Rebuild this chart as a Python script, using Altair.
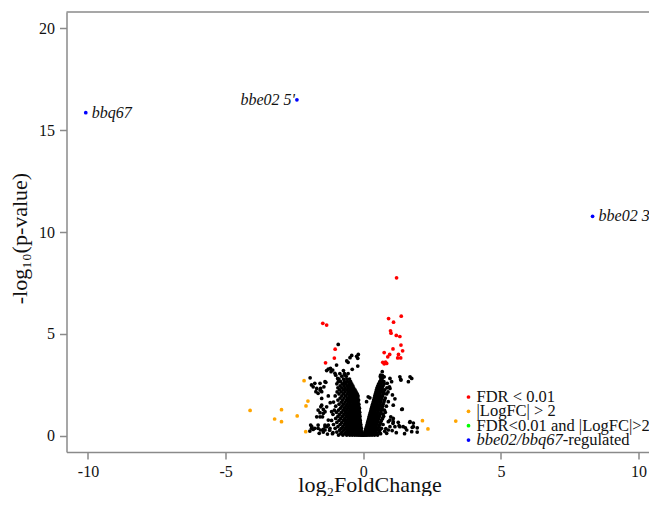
import altair as alt
import pandas as pd

# ---------------- data ----------------
left_arm_rows = [
    (0.03, [-0.9, -0.74, -0.6, -0.49, -0.4, -0.31, -0.23, -0.16, -0.1, -0.05, -0.02]),
    (0.10, [-1.12, -0.82, -0.67, -0.55, -0.45, -0.36, -0.28, -0.2, -0.13, -0.07, -0.03]),
    (0.18, [-0.96, -0.77, -0.62, -0.51, -0.42, -0.33, -0.25, -0.18, -0.11, -0.05]),
    (0.27, [-1.22, -0.86, -0.71, -0.58, -0.47, -0.38, -0.3, -0.22, -0.15, -0.08]),
    (0.36, [-1.02, -0.8, -0.66, -0.54, -0.44, -0.35, -0.27, -0.19, -0.12, -0.07]),
    (0.45, [-0.92, -0.74, -0.61, -0.5, -0.41, -0.32, -0.24, -0.17, -0.09]),
    (0.55, [-1.08, -0.84, -0.69, -0.57, -0.46, -0.37, -0.29, -0.21, -0.14, -0.09]),
    (0.65, [-0.96, -0.78, -0.64, -0.53, -0.43, -0.34, -0.26, -0.18, -0.11]),
    (0.75, [-1.15, -0.88, -0.72, -0.6, -0.49, -0.4, -0.31, -0.23, -0.16, -0.11]),
    (0.85, [-1.0, -0.82, -0.67, -0.55, -0.45, -0.36, -0.28, -0.2, -0.13]),
    (0.95, [-0.92, -0.76, -0.62, -0.51, -0.41, -0.33, -0.25, -0.18, -0.12]),
    (1.05, [-1.1, -0.86, -0.7, -0.58, -0.47, -0.38, -0.3, -0.22, -0.14]),
    (1.15, [-0.97, -0.79, -0.65, -0.53, -0.43, -0.34, -0.26, -0.19, -0.13]),
    (1.25, [-1.05, -0.9, -0.73, -0.6, -0.49, -0.4, -0.31, -0.23, -0.15]),
    (1.35, [-0.83, -0.68, -0.56, -0.45, -0.36, -0.28, -0.21, -0.14]),
    (1.45, [-1.0, -0.77, -0.63, -0.52, -0.42, -0.33, -0.25, -0.17]),
    (1.55, [-0.88, -0.72, -0.59, -0.48, -0.38, -0.3, -0.22, -0.16]),
    (1.65, [-1.08, -0.8, -0.66, -0.54, -0.44, -0.35, -0.27, -0.19]),
    (1.75, [-0.92, -0.75, -0.61, -0.5, -0.4, -0.31, -0.23, -0.17]),
    (1.85, [-0.84, -0.7, -0.57, -0.46, -0.36, -0.28, -0.2]),
    (1.95, [-1.02, -0.78, -0.64, -0.52, -0.42, -0.33, -0.25, -0.19]),
    (2.05, [-0.88, -0.72, -0.58, -0.47, -0.38, -0.3, -0.22]),
    (2.15, [-0.95, -0.8, -0.66, -0.54, -0.43, -0.34, -0.26]),
    (2.25, [-0.86, -0.72, -0.6, -0.49, -0.39, -0.3]),
    (2.35, [-0.92, -0.78, -0.66, -0.55, -0.45, -0.35]),
    (2.45, [-0.84, -0.7, -0.58, -0.48, -0.38]),
    (2.55, [-0.96, -0.76, -0.64, -0.52, -0.42]),
    (2.65, [-0.82, -0.68, -0.57, -0.46]),
    (2.78, [-0.88, -0.72, -0.6, -0.5]),
    (2.92, [-0.78, -0.62]),
    (3.05, [-0.85, -0.68, -0.55]),
    (3.20, [-0.72]),
]

right_arm_rows = [
    (0.03, [0.02, 0.06, 0.11, 0.17, 0.24, 0.32, 0.41, 0.52]),
    (0.10, [0.04, 0.09, 0.15, 0.22, 0.3, 0.39, 0.5, 0.63]),
    (0.18, [0.06, 0.12, 0.19, 0.27, 0.36, 0.46, 0.58]),
    (0.27, [0.08, 0.14, 0.21, 0.29, 0.38, 0.48, 0.6]),
    (0.36, [0.1, 0.17, 0.25, 0.33, 0.42, 0.53, 0.66]),
    (0.45, [0.12, 0.19, 0.27, 0.36, 0.46, 0.57]),
    (0.55, [0.14, 0.21, 0.29, 0.38, 0.48, 0.6, 0.72]),
    (0.65, [0.16, 0.24, 0.32, 0.41, 0.51, 0.63]),
    (0.75, [0.18, 0.26, 0.34, 0.43, 0.53, 0.66]),
    (0.85, [0.2, 0.28, 0.37, 0.46, 0.56, 0.7]),
    (0.95, [0.22, 0.3, 0.39, 0.48, 0.59, 0.74]),
    (1.05, [0.24, 0.32, 0.41, 0.5, 0.61, 0.72]),
    (1.15, [0.26, 0.34, 0.43, 0.53, 0.64, 0.8]),
    (1.25, [0.28, 0.36, 0.45, 0.55, 0.66, 0.77]),
    (1.35, [0.3, 0.38, 0.47, 0.57, 0.68]),
    (1.45, [0.32, 0.4, 0.49, 0.59, 0.7, 0.84]),
    (1.55, [0.34, 0.42, 0.51, 0.61, 0.72]),
    (1.65, [0.36, 0.44, 0.53, 0.63, 0.75]),
    (1.75, [0.38, 0.46, 0.55, 0.65, 0.77]),
    (1.85, [0.4, 0.48, 0.57, 0.67, 0.8]),
    (1.95, [0.42, 0.5, 0.59, 0.7]),
    (2.05, [0.44, 0.52, 0.61, 0.72, 0.85]),
    (2.15, [0.46, 0.54, 0.63, 0.74, 0.9]),
    (2.25, [0.48, 0.57, 0.66, 0.78]),
    (2.35, [0.5, 0.59, 0.69, 0.86]),
    (2.45, [0.53, 0.62, 0.72]),
    (2.55, [0.56, 0.65, 0.76]),
    (2.65, [0.6, 0.7]),
    (2.78, [0.64]),
    (2.95, [0.7]),
]

sparse_black_x = [
    -0.91, -0.42, -0.18, -0.20, -0.20, -0.55, -0.40, -0.60, -0.48, -0.24,
    -1.33, -1.19, -1.11, -1.03, -1.00, -0.93, -0.97, -1.27, -1.17, -0.67, -0.91,
    -1.93, -1.88, -1.82, -1.72, -1.57, -1.55, -1.64, -1.51, -1.39, -1.43, -1.36, -1.76, -1.69, -1.57,
    -1.51, -1.45, -1.39, -1.48, -1.33, -1.64, -1.57, -1.51, -1.54, -1.45, -1.57, -1.69, -1.64, -1.39,
    -1.27, -1.15, -1.27, -1.20,
    -1.91, -1.87, -1.94, -1.64, -1.55, -1.39, -1.88, -1.76, -1.33, -1.27, -1.39, -1.82, -1.45, -1.21,
    -1.60, -1.30, -1.45, -1.10,
    0.63, 0.69, 0.75, 0.87, 0.97, 1.03, 0.95, 1.33, 1.36, 1.37, 1.70, 1.76, 1.64, 0.62, 0.69, 0.76,
    0.75, 1.15, 0.18, 0.12, 0.24, 1.42, 1.40, 0.97, 1.06, 0.91, 1.09, 1.00,
    1.09, 0.97, 0.91, 1.09, 1.33, 1.45, 1.70, 1.82, 1.76, 1.15, 0.91, 1.69, 1.82, 1.78, 1.53, 1.96,
    1.96, 1.30, 1.08, 1.27, 1.58, 0.97, 1.20, 1.50, 0.85, 0.78, 0.82, 1.05,
]
sparse_black_y = [
    4.48, 3.94, 3.99, 3.80, 3.42, 3.60, 3.26, 3.67, 3.83, 3.90,
    3.20, 3.30, 3.22, 3.06, 2.97, 2.81, 3.47, 3.27, 3.14, 2.98, 2.65,
    2.84, 2.49, 2.40, 2.16, 2.57, 2.32, 2.08, 2.16, 2.65, 2.40, 2.62, 2.57, 2.32, 2.24,
    1.50, 1.29, 1.18, 0.93, 1.42, 1.26, 1.13, 1.83, 1.42, 1.10, 0.93, 0.93, 0.52, 0.52,
    0.77, 1.18, 1.95, 1.62,
    0.52, 0.44, 0.23, 0.36, 0.28, 0.44, 0.36, 0.36, 0.44, 0.52, 0.28, 0.31, 0.31, 0.36,
    0.12, 0.08, 0.18, 0.15,
    2.98, 2.81, 2.65, 2.57, 2.81, 2.65, 2.40, 2.89, 2.76, 2.73, 2.89, 2.81, 2.65, 2.91, 3.14, 2.89,
    2.08, 1.81, 1.91, 1.67, 1.86, 1.31, 1.29, 2.32, 2.00, 1.67, 1.50, 0.93,
    0.85, 0.77, 0.69, 0.69, 0.44, 0.44, 0.69, 0.44, 0.20, 0.44, 0.28, 0.66, 0.62, 0.41, 0.39, 0.39,
    0.18, 0.49, 0.61, 0.66, 0.28, 0.44, 0.15, 0.10, 0.12, 0.22, 0.35, 0.25,
]

orange_x = [-4.11, -3.22, -2.97, -2.97, -2.40, -2.15, -2.08, -2.01, -2.09, 2.15, 2.35, 3.36]
orange_y = [1.24, 0.82, 1.28, 0.69, 0.97, 2.70, 1.46, 1.70, 0.20, 0.74, 0.33, 0.72]

red_x = [1.21, -1.47, -1.33, 1.38, 0.92, 1.10, 0.99, 1.01, 1.20, 1.33, -1.02, 1.37, 1.08,
         1.43, 0.76, 0.96, 0.89, -1.05, 1.25, 1.36, 0.71, 0.76, 0.81, 0.85, -1.37, 1.28]
red_y = [7.75, 5.52, 5.43, 5.87, 5.75, 5.57, 5.15, 5.03, 4.92, 4.87, 4.25, 4.45, 4.26,
         4.17, 4.08, 3.99, 3.87, 3.81, 3.82, 3.82, 3.60, 3.53, 3.61, 3.55, 3.58, 3.99]

blue_x = [-10.08, -2.41, 8.33]
blue_y = [15.86, 16.49, 10.77]
blue_labels = ["bbq67", "bbe02 5'", "bbe02 3'"]
blue_label_side = ["right", "left", "right"]

categories = ["ns", "FDR < 0.01", "|LogFC| > 2", "FDR<0.01 and |LogFC|>2", "bbe02/bbq67-regulated"]
cat_colors = ["#000000", "#FF0000", "#FFA500", "#00FF00", "#0000FF"]

# legend entries: (italic part, upright part)
legend_italic = ["", "", "", "bbe02/bbq67"]
legend_upright = ["FDR < 0.01", "|LogFC| > 2", "FDR<0.01 and |LogFC|>2", "-regulated"]
legend_colors = cat_colors[1:]

x_ticks = [-10, -5, 0, 5, 10]
y_ticks = [0, 5, 10, 15, 20]

# ---------------- build tables ----------------
rows = []
for yv, xs in left_arm_rows + right_arm_rows:
    for xv in xs:
        rows.append({"x": xv, "y": yv, "g": "ns"})
for xv, yv in zip(sparse_black_x, sparse_black_y):
    rows.append({"x": xv, "y": yv, "g": "ns"})
for xv, yv in zip(orange_x, orange_y):
    rows.append({"x": xv, "y": yv, "g": "|LogFC| > 2"})
for xv, yv in zip(red_x, red_y):
    rows.append({"x": xv, "y": yv, "g": "FDR < 0.01"})
for xv, yv in zip(blue_x, blue_y):
    rows.append({"x": xv, "y": yv, "g": "bbe02/bbq67-regulated"})
points = pd.DataFrame(rows)
points["order"] = range(len(points))

labels = pd.DataFrame({"x": blue_x, "y": blue_y, "label": blue_labels, "side": blue_label_side})

W, H = 582.5, 440
GRAY = "#8a8a8a"
SERIF = "Liberation Serif"
TXT = "#111111"

xscale = alt.Scale(domain=[-10.78, 10.38], nice=False, zero=False)
yscale = alt.Scale(domain=[-0.8, 20.8], nice=False, zero=False)

x_axis = alt.Axis(values=x_ticks, grid=False, labelExpr="'' + datum.value",
                  domainColor=GRAY, domainWidth=1.5, tickColor=GRAY, tickWidth=1.5, tickSize=7,
                  labelFont=SERIF, labelFontSize=16, labelColor=TXT, labelPadding=4,
                  title="log₂FoldChange", titleFont=SERIF, titleFontSize=22,
                  titleFontWeight="normal", titleColor=TXT,
                  titleX=303, titleY=39, titleBaseline="alphabetic", titleAlign="center")
y_axis = alt.Axis(values=y_ticks, grid=False, labelExpr="'' + datum.value",
                  domainColor=GRAY, domainWidth=1.5, tickColor=GRAY, tickWidth=1.5, tickSize=7,
                  labelFont=SERIF, labelFontSize=16, labelColor=TXT, labelPadding=5,
                  title="-log₁₀(p-value)", titleFont=SERIF, titleFontSize=22,
                  titleFontWeight="normal", titleColor=TXT, titleAngle=270,
                  titleX=-40, titleY=226, titleBaseline="alphabetic", titleAlign="center")

pts = alt.Chart(points).mark_circle(size=14, opacity=1).encode(
    x=alt.X("x:Q", scale=xscale, axis=x_axis),
    y=alt.Y("y:Q", scale=yscale, axis=y_axis),
    color=alt.Color("g:N", scale=alt.Scale(domain=categories, range=cat_colors), legend=None),
    order=alt.Order("order:Q"),
)

lab_right = alt.Chart(labels).transform_filter(alt.datum.side == "right").mark_text(
    align="left", baseline="middle", dx=6, font=SERIF, fontSize=16, fontStyle="italic",
    color=TXT).encode(x=alt.X("x:Q", scale=xscale), y=alt.Y("y:Q", scale=yscale),
                       text="label:N")
lab_left = alt.Chart(labels).transform_filter(alt.datum.side == "left").mark_text(
    align="right", baseline="middle", dx=-2, font=SERIF, fontSize=16, fontStyle="italic",
    color=TXT).encode(x=alt.X("x:Q", scale=xscale), y=alt.Y("y:Q", scale=yscale),
                       text="label:N")

top_border = alt.Chart(pd.DataFrame({"a": [0]})).mark_rule(color=GRAY, strokeWidth=1.5).encode(
    x=alt.value(0), x2=alt.value(W), y=alt.value(0))

# ---- hand-made legend (lets the last entry mix italic and upright text) ----
LEG_SYM_X, LEG_TXT_X, LEG_Y0, LEG_DY, LEG_FS = 402, 410, 385, 14.35, 16.5
ITALIC_EM = 5.222  # advance of "bbe02/bbq67" in Times-metric italic, in em
legend_layers = []
one = pd.DataFrame({"a": [0]})
for i, (it, up, col) in enumerate(zip(legend_italic, legend_upright, legend_colors)):
    yy = LEG_Y0 + i * LEG_DY
    legend_layers.append(alt.Chart(one).mark_circle(size=14, opacity=1, color=col).encode(
        x=alt.value(LEG_SYM_X), y=alt.value(yy)))
    x_up = LEG_TXT_X
    if it:
        legend_layers.append(alt.Chart(one).mark_text(
            align="left", baseline="middle", font=SERIF, fontSize=LEG_FS, fontStyle="italic",
            color=TXT, text=it).encode(x=alt.value(LEG_TXT_X), y=alt.value(yy)))
        x_up = LEG_TXT_X + ITALIC_EM * LEG_FS
    legend_layers.append(alt.Chart(one).mark_text(
        align="left", baseline="middle", font=SERIF, fontSize=LEG_FS,
        color=TXT, text=up).encode(x=alt.value(x_up), y=alt.value(yy)))

chart = alt.layer(top_border, pts, lab_right, lab_left, *legend_layers).properties(
    width=W, height=H,
    autosize=alt.AutoSizeParams(type="none"),
    padding={"left": 58.5, "top": 4, "right": 0, "bottom": 44},
).configure_view(strokeWidth=0)

chart.save("out.html", embed_options={"renderer": "svg", "actions": False})
